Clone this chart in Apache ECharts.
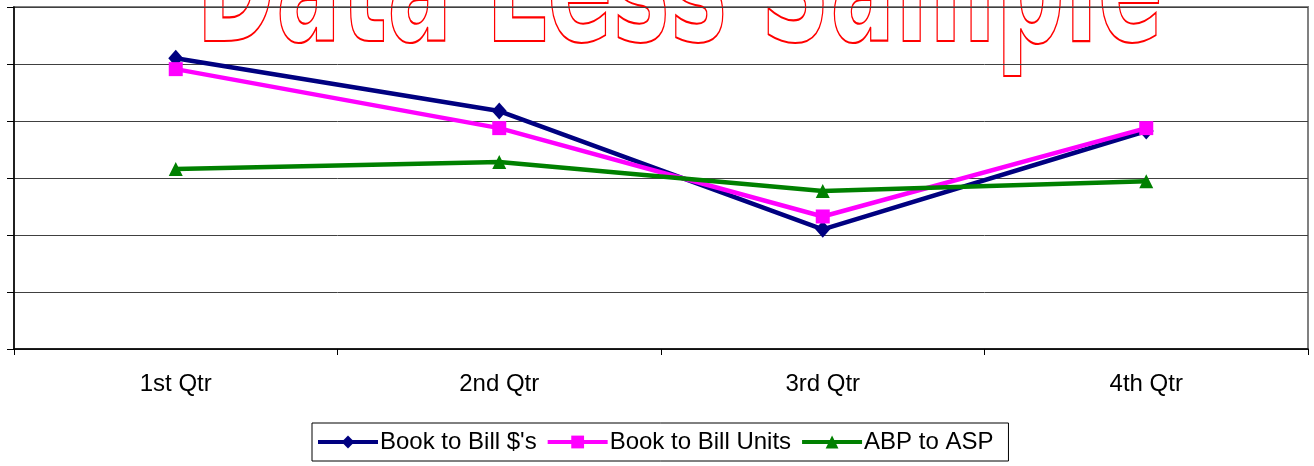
<!DOCTYPE html>
<html>
<head>
<meta charset="utf-8">
<script src="https://cdn.jsdelivr.net/npm/echarts@6/dist/echarts.min.js"></script>
<style>html,body{margin:0;padding:0;background:#fff}#c{width:1314px;height:466px}</style>
</head>
<body>
<div id="c"></div>
<script>
var categories = ['1st Qtr', '2nd Qtr', '3rd Qtr', '4th Qtr'];
var bookToBillDollars = [1.02, 0.835, 0.42, 0.765];
var bookToBillUnits = [0.982, 0.775, 0.465, 0.775];
var abpToAsp = [0.632, 0.656, 0.554, 0.589];
var seriesNames = ["Book to Bill $'s", 'Book to Bill Units', 'ABP to ASP'];

var chart = echarts.init(document.getElementById('c'), null, {renderer: 'canvas'});
var font = 'Liberation Sans, Arial, sans-serif';
chart.setOption({
  animation: false,
  backgroundColor: '#fff',
  grid: {left: 14, right: 6, top: 7, bottom: 117, show: true, borderColor: '#808080', borderWidth: 2, backgroundColor: 'transparent'},
  graphic: [{
    type: 'text', x: 196, y: -86, z: 0,
    scaleX: 0.81, scaleY: 1.4,
    style: {text: 'Data Less Sample', font: 'bold 119px "DejaVu Sans"', align: 'left', verticalAlign: 'top',
            fill: 'rgba(0,0,0,0)', stroke: '#ff0000', lineWidth: 1.5}
  }],
  legend: {
    left: 312, top: 423, orient: 'horizontal',
    borderColor: '#000', borderWidth: 1, padding: [7, 15, 7, 4],
    itemWidth: 60, itemHeight: 16, itemGap: 9,
    lineStyle: {width: 4},
    textStyle: {fontFamily: font, fontSize: 24, color: '#000', padding: [0, 0, 0, -3]},
    data: seriesNames
  },
  xAxis: {
    type: 'category', data: categories, boundaryGap: true,
    axisLine: {lineStyle: {color: '#000', width: 1.5}},
    axisTick: {show: true, length: 6, lineStyle: {color: '#000'}},
    axisLabel: {fontFamily: font, fontSize: 24, color: '#000', margin: 23}
  },
  yAxis: {
    type: 'value', min: 0, max: 1.2, interval: 0.2,
    axisLine: {show: true, lineStyle: {color: '#000', width: 1.5}},
    axisTick: {show: true, length: 7, lineStyle: {color: '#000'}},
    axisLabel: {show: false},
    splitLine: {lineStyle: {color: '#404040', width: 1}}
  },
  series: [
    {name: seriesNames[0], type: 'line', data: bookToBillDollars, symbol: 'diamond', symbolSize: [15, 17],
     lineStyle: {color: '#000080', width: 4.5}, itemStyle: {color: '#000080'}, z: 3},
    {name: seriesNames[1], type: 'line', data: bookToBillUnits, symbol: 'rect', symbolSize: 14,
     lineStyle: {color: '#ff00ff', width: 4.5}, itemStyle: {color: '#ff00ff'}, z: 4},
    {name: seriesNames[2], type: 'line', data: abpToAsp, symbol: 'triangle', symbolSize: 14,
     lineStyle: {color: '#008000', width: 4.5}, itemStyle: {color: '#008000'}, z: 5}
  ]
});
</script>
</body>
</html>
